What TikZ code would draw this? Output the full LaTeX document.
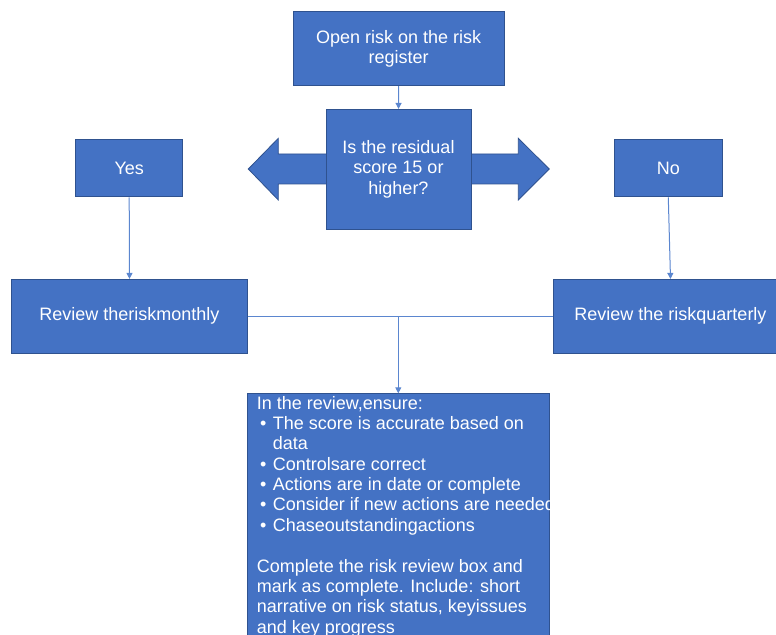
\documentclass[tikz,border=0pt]{standalone}
\usepackage{fontspec}
\setmainfont{Liberation Sans}
\usetikzlibrary{arrows.meta}
\definecolor{boxblue}{HTML}{4472C4}
\definecolor{boxedge}{HTML}{2F528F}
\definecolor{linkblue}{HTML}{5B86CF}
\begin{document}
\begin{tikzpicture}[x=0.75pt,y=-0.75pt,
  blk/.style={draw=boxedge, line width=0.6pt, fill=boxblue, text=white, inner sep=0pt, align=center,
              font=\fontsize{13.5pt}{15.3pt}\selectfont},
  conn/.style={draw=linkblue, line width=0.75pt},
  arr/.style={conn, -{Triangle[width=4.5pt,length=4.5pt]}}]
\useasboundingbox (0,0) rectangle (776,635);
% double arrow behind the decision box
\draw[draw=boxedge, line width=0.6pt, fill=boxblue]
  (248.3,169) -- (278.3,138.3) -- (278.3,154) -- (518.3,154) -- (518.3,138.3) -- (549.3,169)
  -- (518.3,200) -- (518.3,184) -- (278.3,184) -- (278.3,200) -- cycle;
\node[blk, minimum width=158.25pt, minimum height=55.5pt] (open) at (398.7,48.8) {Open risk on the risk\\register};
\node[blk, minimum width=108.75pt, minimum height=90pt] (dec) at (398.5,169.3) {Is the residual\\score 15 or\\higher?};
\node[blk, minimum width=80.25pt, minimum height=42.75pt] (yes) at (129.2,168.4) {Yes};
\node[blk, minimum width=81.5pt, minimum height=42.75pt] (no) at (668.3,168.4) {No};
\node[blk, minimum width=176.7pt, minimum height=55.5pt] (mon) at (129.5,316.3) {Review theriskmonthly};
\node[blk, minimum width=176.25pt, minimum height=55.5pt] (qua) at (670.5,316.3) {Review the riskquarterly};
\node[blk, anchor=north, minimum width=226.5pt, minimum height=202.5pt] (rev) at (398.3,393.3) {};
\node[anchor=base west, inner sep=0pt, text=white, font=\fontsize{13.5pt}{15.3pt}\selectfont] (revtext) at (256.5,409)
 {\parbox[t]{300pt}{\raggedright
  In the review,ensure:\\
  \makebox[12pt][l]{\hspace{2.5pt}•}The score is accurate based on\\
  \hspace*{12pt}data\\
  \makebox[12pt][l]{\hspace{2.5pt}•}Controlsare correct\\
  \makebox[12pt][l]{\hspace{2.5pt}•}Actions are in date or complete\\
  \makebox[12pt][l]{\hspace{2.5pt}•}Consider if new actions are needed\\
  \makebox[12pt][l]{\hspace{2.5pt}•}Chaseoutstandingactions\\
  \mbox{}\\
  Complete the risk review box and\\
  mark as complete. Include: short\\
  narrative on risk status, keyissues\\
  and key progress}};
% connectors
\draw[arr] (open.south) -- (dec.north);
\draw[arr] (yes.south) -- (mon.north);
\draw[arr] (no.south) -- (qua.north);
\draw[conn] (mon.east) -- (qua.west);
\coordinate (j) at (rev.north |- mon.east);
\draw[arr] (j) -- (rev.north);
\end{tikzpicture}
\end{document}
